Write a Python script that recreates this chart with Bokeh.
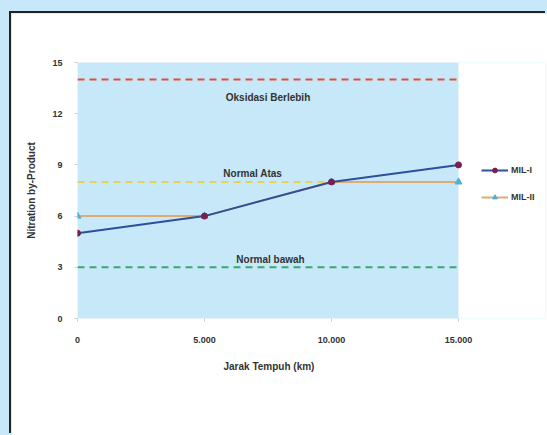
from bokeh.plotting import figure
from bokeh.models import (Range1d, FixedTicker, Legend, LegendItem, ColumnDataSource,
                          BoxAnnotation, Title)
from bokeh.embed import file_html
from bokeh.resources import INLINE
from bokeh.core.properties import value

# ---- data ----
jarak = [0, 5000, 10000, 15000]
mil_1 = [5, 6, 8, 9]
mil_2 = [6, 6, 8, 8]
series_names = ["MIL-I", "MIL-II"]

ref_values = [14, 8, 3]
ref_labels = ["Oksidasi Berlebih", "Normal Atas", "Normal bawah"]
ref_label_x = [7500, 6900, 7600]
ref_label_y = [12.95, 8.5, 3.45]

x_ticks = [0, 5000, 10000, 15000]
x_tick_labels = ["0", "5.000", "10.000", "15.000"]
y_ticks = [0, 3, 6, 9, 12, 15]

X_MIN, X_MAX = 0, 15000
Y_MIN, Y_MAX = 0, 15

FONT = "Liberation Sans"
TXT = "#333333"
BLUE_BG = "#c6e8f8"

FIG_W, FIG_H = 536, 422
B_LEFT, B_RIGHT = 66, 2
DATA_PX = 381  # pixel width of the 0..15000 plot area
frame_w = FIG_W - B_LEFT - B_RIGHT
x_end = X_MAX * frame_w / DATA_PX

p = figure(width=FIG_W, height=FIG_H, output_backend="svg", toolbar_location=None,
           x_range=Range1d(X_MIN, x_end), y_range=Range1d(Y_MIN, Y_MAX),
           min_border_left=B_LEFT, min_border_top=49, min_border_bottom=117,
           min_border_right=B_RIGHT,
           background_fill_color="white", border_fill_color="white",
           outline_line_color=None,
           styles={"margin-left": "11px", "margin-top": "13px",
                   "box-shadow": "-2px -2px 0 #222222"})

p.xgrid.visible = False
p.ygrid.visible = False

# plot-area fill
p.add_layout(BoxAnnotation(left=X_MIN, right=X_MAX, bottom=Y_MIN, top=Y_MAX,
                           fill_color=BLUE_BG, fill_alpha=1, line_color=None,
                           level="underlay"))

# axes
p.xaxis.ticker = FixedTicker(ticks=x_ticks)
p.xaxis.major_label_overrides = {t: l for t, l in zip(x_ticks, x_tick_labels)}
p.yaxis.ticker = FixedTicker(ticks=y_ticks)
for ax in (p.xaxis[0], p.yaxis[0]):
    ax.axis_line_color = None
    ax.major_tick_line_color = "#cccccc"
    ax.major_tick_in = 0
    ax.major_tick_out = 3
    ax.minor_tick_line_color = None
    ax.major_label_text_font = FONT
    ax.major_label_text_font_size = "9px"
    ax.major_label_text_font_style = "bold"
    ax.major_label_text_color = TXT
    ax.axis_label_text_font = FONT
    ax.axis_label_text_font_size = "10px"
    ax.axis_label_text_font_style = "bold"
    ax.axis_label_text_color = TXT
p.yaxis.axis_label = "Nitration by-Product"
p.xaxis.major_label_standoff = 15
p.yaxis.major_label_standoff = 12
p.yaxis.axis_label_standoff = 12

# x-axis title, centred under the blue plot area
p.add_layout(Title(text="Jarak Tempuh (km)", align="left", offset=146, standoff=26,
                   text_font=FONT, text_font_size="10px", text_font_style="bold",
                   text_color=TXT), "below")

# reference lines
ref_colors = ["#e0503c", "#e8d44c", "#3aa870"]
src_ref = ColumnDataSource(dict(x0=[X_MIN] * 3, x1=[X_MAX] * 3, y=ref_values,
                                c=ref_colors))
p.segment(x0="x0", y0="y", x1="x1", y1="y", source=src_ref, line_color="c",
          line_width=2, line_dash="7 5")

src_lbl = ColumnDataSource(dict(x=ref_label_x, y=ref_label_y, t=ref_labels))
p.text(x="x", y="y", text="t", source=src_lbl, text_align="center",
       text_baseline="middle", text_font=value(FONT), text_font_size="10px",
       text_font_style="bold", text_color=TXT)

# series
l2 = p.line(jarak, mil_2, line_color="#e0aa70", line_width=2)
s2 = p.scatter(jarak, mil_2, marker="triangle", size=7, fill_color="#4fb0d8",
               line_color="#4fb0d8")
l1 = p.line(jarak, mil_1, line_color="#2e4f9c", line_width=2)
s1 = p.scatter(jarak, mil_1, marker="circle", size=6, fill_color="#7a1f4a",
               line_color="#7a1f4a")

legend = Legend(items=[LegendItem(label=series_names[0], renderers=[l1, s1]),
                       LegendItem(label=series_names[1], renderers=[l2, s2])],
                location=(404, 115), border_line_color=None, background_fill_alpha=0,
                label_text_font=FONT, label_text_font_size="9px",
                label_text_font_style="bold", label_text_color=TXT,
                glyph_width=27, glyph_height=12, spacing=15, label_standoff=3,
                padding=2, margin=0)
p.add_layout(legend, "center")

html = file_html(p, INLINE)
html = html.replace("<body>", f'<body style="margin:0;background:{BLUE_BG};">')
open("out.html", "w").write(html)
